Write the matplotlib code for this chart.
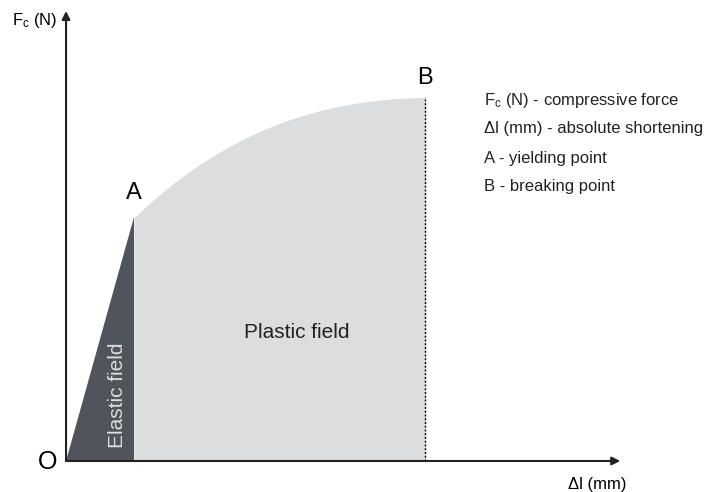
import matplotlib
matplotlib.use("Agg")
import matplotlib.pyplot as plt
import numpy as np

plt.rcParams["font.family"] = ["Liberation Sans", "DejaVu Sans"]
plt.rcParams["mathtext.fontset"] = "custom"
plt.rcParams["mathtext.rm"] = "Liberation Sans"

# elastic part: O -> A, plastic part: A -> B (units)
elastic_dl = [0.0, 1.0]
elastic_fc = [0.0, 2.44]
plastic_dl = [1.0, 1.68, 2.41, 3.15, 3.88, 4.62, 5.28]
plastic_fc = [2.44, 2.81, 3.16, 3.38, 3.53, 3.60, 3.64]

legend_lines = [
    r"$\mathregular{F_c}$ (N) - compressive force",
    "Δl (mm) - absolute shortening",
    "A - yielding point",
    "B - breaking point",
]

dark = "#50545b"
light = "#dcdddf"

fig = plt.figure(figsize=(7.08, 4.92), dpi=100)
ax = fig.add_axes([0, 0, 1, 1])
ax.set_xlim(-0.971, 9.441)
ax.set_ylim(-0.31, 4.61)
ax.axis("off")

# smooth plastic curve through the read points
xs = np.linspace(plastic_dl[0], plastic_dl[-1], 200)
coef = np.polyfit(plastic_dl, plastic_fc, 3)
ys = np.polyval(coef, xs)
ax.fill_between(xs, 0, ys, color=light, lw=0, zorder=1)
ax.fill([elastic_dl[0], elastic_dl[1], elastic_dl[1]],
        [elastic_fc[0], elastic_fc[1], 0], color=dark, lw=0, zorder=2)
ax.plot([plastic_dl[-1], plastic_dl[-1]], [0, plastic_fc[-1]],
        color="black", lw=1, ls=(0, (1.5, 1.2)), zorder=3)

# axes arrows
arrow = dict(arrowstyle="-|>", color="#222222", lw=1.5, mutation_scale=12,
             shrinkA=0, shrinkB=0)
ax.annotate("", xy=(8.15, 0), xytext=(0, 0), arrowprops=arrow, zorder=4)
ax.annotate("", xy=(0, 4.50), xytext=(0, 0), arrowprops=arrow, zorder=4)

ax.text(-0.27, -0.01, "O", fontsize=18, ha="center", va="center")
ax.text(elastic_dl[1], elastic_fc[1] + 0.24, "A", fontsize=17, ha="center", va="center")
ax.text(plastic_dl[-1], plastic_fc[-1] + 0.19, "B", fontsize=17, ha="center", va="center")
ax.text(-0.79, 4.40, r"$\mathregular{F_c}$ (N)", fontsize=12, ha="left", va="center")
ax.text(7.38, -0.23, "Δl (mm)", fontsize=12, ha="left", va="center")
ax.text(3.40, 1.28, "Plastic field", fontsize=15, ha="center", va="center", color="#222222")
ax.text(0.75, 0.66, "Elastic field", fontsize=15, ha="center", va="center",
        rotation=90, color=light, zorder=5)

for i, line in enumerate(legend_lines):
    ax.text(6.15, 3.61 - i * 0.29, line, fontsize=12, ha="left", va="center",
            color="#222222")

fig.savefig("out.png", dpi=100)
